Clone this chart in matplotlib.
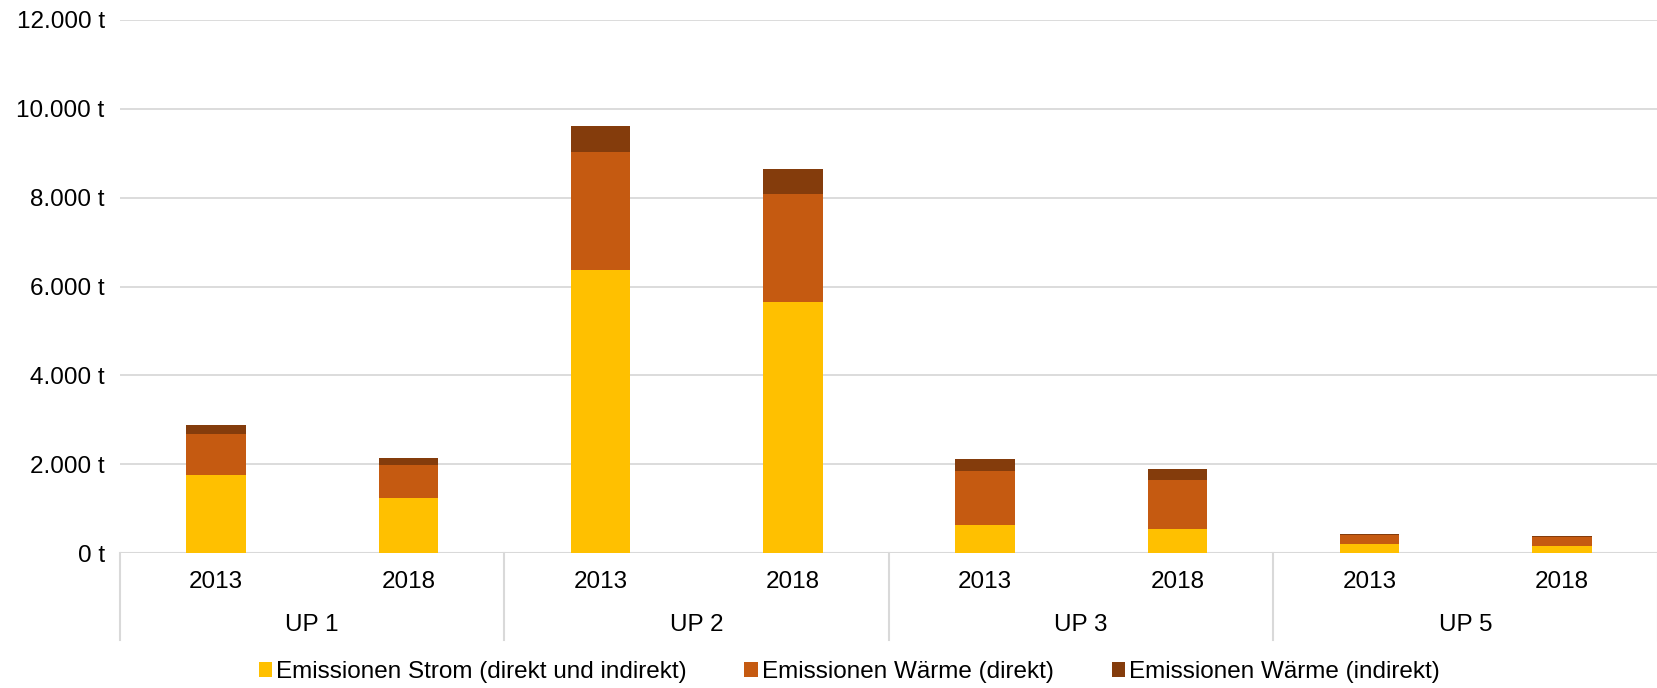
import matplotlib
matplotlib.use("Agg")
import matplotlib.pyplot as plt
from matplotlib.lines import Line2D
from matplotlib.patches import Patch
import numpy as np

plt.rcParams['font.family'] = ['Liberation Sans', 'DejaVu Sans']

groups = ["UP 1", "UP 2", "UP 3", "UP 5"]
years = ["2013", "2018"]
strom = [1760, 1230, 6370, 5640, 620, 550, 195, 165]
waerme_direkt = [930, 750, 2650, 2450, 1235, 1095, 213, 204]
waerme_indirekt = [190, 150, 595, 550, 262, 240, 13, 23]
series_names = ["Emissionen Strom (direkt und indirekt)",
                "Emissionen Wärme (direkt)",
                "Emissionen Wärme (indirekt)"]
colors = ["#FFC000", "#C55A11", "#843C0C"]
yticks = [0, 2000, 4000, 6000, 8000, 10000, 12000]

FS = 17.5
W, H = 1658, 688
fig = plt.figure(figsize=(W / 100, H / 100), dpi=100)
left, right, top, bottom = 120, 1658, 20, 553
ax = fig.add_axes([left / W, 1 - bottom / H, (right - left) / W, (bottom - top) / H])

x = np.arange(len(strom))
bw = 0.31
s = np.array(strom, float)
d = np.array(waerme_direkt, float)
i = np.array(waerme_indirekt, float)
ax.bar(x, s, bw, color=colors[0], zorder=3)
ax.bar(x, d, bw, bottom=s, color=colors[1], zorder=3)
ax.bar(x, i, bw, bottom=s + d, color=colors[2], zorder=3)

ax.set_xlim(-0.5, len(strom) - 0.5)
ax.set_ylim(0, 12000)
ax.set_yticks(yticks)
ax.set_yticklabels([f"{v:,}".replace(",", ".") + " t" for v in yticks], fontsize=FS)
ax.tick_params(axis='y', length=0, pad=11)
ax.set_xticks([])
ax.grid(axis='y', color='#D9D9D9', linewidth=1.3, zorder=0)
for sp in ax.spines.values():
    sp.set_visible(False)
ax.axhline(0, color='#D9D9D9', linewidth=1.5, zorder=2)

ph = bottom - top
y_year = -(582 - bottom) / ph
y_group = -(625 - bottom) / ph
y_sep = -(640 - bottom) / ph
trans = ax.get_xaxis_transform()
for k in range(len(strom)):
    ax.text(k, y_year, years[k % 2], transform=trans, ha='center', va='center', fontsize=FS)
for g, name in enumerate(groups):
    ax.text(2 * g + 0.5, y_group, name, transform=trans, ha='center', va='center', fontsize=FS)
for sx in [-0.5, 1.5, 3.5, 5.5, 7.5]:
    ax.add_line(Line2D([sx, sx], [0, y_sep], transform=trans, color='#D9D9D9',
                       linewidth=1.5, clip_on=False))

handles = [Patch(facecolor=c, edgecolor='none') for c in colors]
fig.legend(handles, series_names, loc='center', bbox_to_anchor=(849 / W, 1 - 672 / H),
           ncol=3, frameon=False, fontsize=FS, handlelength=0.55, handleheight=0.55,
           handletextpad=0.15, columnspacing=2.4)

fig.savefig("out.png", dpi=100)
